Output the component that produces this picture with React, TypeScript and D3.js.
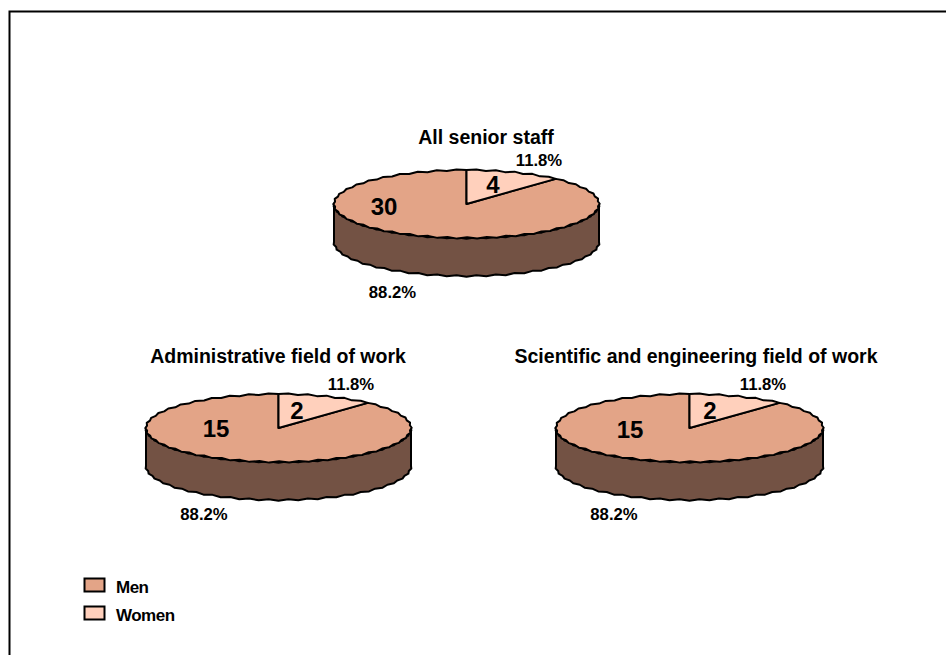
import React from 'react';
import * as d3 from 'd3';

const titles = ['All senior staff', 'Administrative field of work', 'Scientific and engineering field of work'];
const menCounts = [30, 15, 15];
const womenCounts = [4, 2, 2];
const legendLabels = ['Men', 'Women'];

const MEN = '#e3a487';
const WOMEN = '#ffd0bc';
const WALL = '#735244';
const FONT = '"Liberation Sans", Arial, sans-serif';

const layout = [
  { cx: 466.5, cy: 204, rx: 132.5, titleX: 486, titleY: 144, menX: 384, menY: 207, womenX: 493, womenY: 185, womenPctX: 539, womenPctY: 166, menPctX: 392.5, menPctY: 298 },
  { cx: 278.5, cy: 428, rx: 132.5, titleX: 278, titleY: 363, menX: 216, menY: 429, womenX: 297, womenY: 411, womenPctX: 351, womenPctY: 390, menPctX: 204, menPctY: 520 },
  { cx: 689.5, cy: 428, rx: 133.5, titleX: 696, titleY: 363, menX: 630, menY: 430, womenX: 710, womenY: 411, womenPctX: 763, womenPctY: 390, menPctX: 614, menPctY: 520 },
];
const RY = 34;
const DEPTH = 38;
const STEP = 0.075; // radians between outline points
const WOBBLE = 0.7; // the scalloped rim of the original

const PiePanel = ({ index }: { index: number }) => {
  const { cx, cy, rx, titleX, titleY, menX, menY, womenX, womenY, womenPctX, womenPctY, menPctX, menPctY } = layout[index];
  const men = menCounts[index];
  const women = womenCounts[index];
  const total = men + women;

  // women's slice starts at 12 o'clock, men take the rest
  const arcs = d3.pie<number>().sort(null)([women, men]);

  const project = (a: number, dy = 0, w = 0): [number, number] => [
    cx + (rx + w) * Math.sin(a),
    cy + dy - (RY + w) * Math.cos(a),
  ];
  const sweep = (a0: number, a1: number, dy = 0) => {
    const n = Math.max(2, Math.ceil(Math.abs(a1 - a0) / STEP));
    return d3.range(n + 1).map(i => project(a0 + ((a1 - a0) * i) / n, dy, i === 0 || i === n ? 0 : i % 2 ? WOBBLE : -WOBBLE));
  };

  const line = d3.line().curve(d3.curveLinear);
  const centre: [number, number] = [cx, cy];
  const slice = (a0: number, a1: number) => line([centre, ...sweep(a0, a1), centre]) + 'Z';
  const wall = line([...sweep(Math.PI / 2, (3 * Math.PI) / 2), ...sweep((3 * Math.PI) / 2, Math.PI / 2, DEPTH)]) + 'Z';
  const pct = d3.format('.1%');

  const textStyle = { fontFamily: FONT, fontWeight: 700, fill: '#000', textAnchor: 'middle' } as const;

  return (
    <g>
      <path d={wall} fill={WALL} stroke="#000" strokeWidth={2} strokeLinejoin="round" />
      <path d={slice(arcs[1].startAngle, arcs[1].endAngle)} fill={MEN} stroke="#000" strokeWidth={2} strokeLinejoin="round" />
      <path d={slice(arcs[0].startAngle, arcs[0].endAngle)} fill={WOMEN} stroke="#000" strokeWidth={2} strokeLinejoin="round" />
      <text x={titleX} y={titleY} fontSize={19.5} style={textStyle}>{titles[index]}</text>
      <text x={menX} y={menY + 8} fontSize={24} style={textStyle}>{men}</text>
      <text x={womenX} y={womenY + 8} fontSize={24} style={textStyle}>{women}</text>
      <text x={womenPctX} y={womenPctY} fontSize={16.7} style={textStyle}>{pct(women / total)}</text>
      <text x={menPctX} y={menPctY} fontSize={16.7} style={textStyle}>{pct(men / total)}</text>
    </g>
  );
};

const App = () => (
  <svg width={946} height={655} style={{ position: 'absolute', left: 0, top: 0, background: '#fff' }}>
    <path d="M9.5 655V11.5H946" fill="none" stroke="#000" strokeWidth={2} />
    {titles.map((_, i) => <PiePanel key={i} index={i} />)}
    {legendLabels.map((label, i) => (
      <g key={label} transform={`translate(0,${i * 28})`}>
        <rect x={84.5} y={578.5} width={20} height={13} fill={i === 0 ? MEN : WOMEN} stroke="#000" strokeWidth={2} />
        <text x={116} y={593} fontSize={17} letterSpacing={-0.5} fontFamily={FONT} fontWeight={700}>{label}</text>
      </g>
    ))}
  </svg>
);

export default App;
